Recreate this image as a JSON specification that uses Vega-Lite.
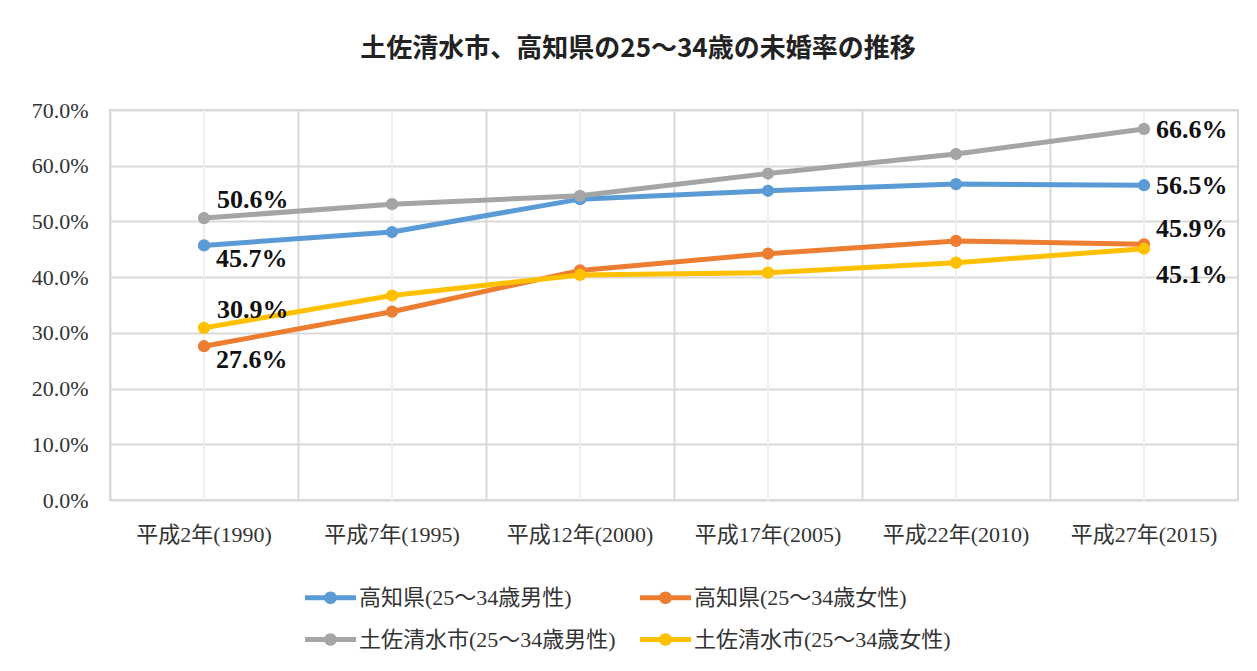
{
  "$schema": "https://vega.github.io/schema/vega-lite/v6.json",
  "width": 1128,
  "height": 390,
  "autosize": {"type": "none"},
  "padding": {"left": 110, "top": 110, "right": 19, "bottom": 171},
  "background": "white",
  "config": {
    "font": "Liberation Serif, Noto Sans CJK JP",
    "view": {"stroke": "#d9d9d9", "strokeWidth": 2},
    "axis": {"gridColor": "#d9d9d9", "gridWidth": 2, "gridOpacity": 1}
  },
  "title": {
    "text": "土佐清水市、高知県の25～34歳の未婚率の推移",
    "font": "Noto Sans CJK JP",
    "fontSize": 26,
    "fontWeight": "bold",
    "color": "#222222",
    "anchor": "middle",
    "dx": -36,
    "offset": 37
  },
  "data": {
    "values": [
      {"year": "平成2年(1990)", "series": "高知県(25～34歳男性)", "rate": 0.457},
      {"year": "平成7年(1995)", "series": "高知県(25～34歳男性)", "rate": 0.481},
      {"year": "平成12年(2000)", "series": "高知県(25～34歳男性)", "rate": 0.540},
      {"year": "平成17年(2005)", "series": "高知県(25～34歳男性)", "rate": 0.555},
      {"year": "平成22年(2010)", "series": "高知県(25～34歳男性)", "rate": 0.567},
      {"year": "平成27年(2015)", "series": "高知県(25～34歳男性)", "rate": 0.565},
      {"year": "平成2年(1990)", "series": "高知県(25～34歳女性)", "rate": 0.276},
      {"year": "平成7年(1995)", "series": "高知県(25～34歳女性)", "rate": 0.338},
      {"year": "平成12年(2000)", "series": "高知県(25～34歳女性)", "rate": 0.412},
      {"year": "平成17年(2005)", "series": "高知県(25～34歳女性)", "rate": 0.442},
      {"year": "平成22年(2010)", "series": "高知県(25～34歳女性)", "rate": 0.465},
      {"year": "平成27年(2015)", "series": "高知県(25～34歳女性)", "rate": 0.459},
      {"year": "平成2年(1990)", "series": "土佐清水市(25～34歳男性)", "rate": 0.506},
      {"year": "平成7年(1995)", "series": "土佐清水市(25～34歳男性)", "rate": 0.531},
      {"year": "平成12年(2000)", "series": "土佐清水市(25～34歳男性)", "rate": 0.546},
      {"year": "平成17年(2005)", "series": "土佐清水市(25～34歳男性)", "rate": 0.586},
      {"year": "平成22年(2010)", "series": "土佐清水市(25～34歳男性)", "rate": 0.621},
      {"year": "平成27年(2015)", "series": "土佐清水市(25～34歳男性)", "rate": 0.666},
      {"year": "平成2年(1990)", "series": "土佐清水市(25～34歳女性)", "rate": 0.309},
      {"year": "平成7年(1995)", "series": "土佐清水市(25～34歳女性)", "rate": 0.367},
      {"year": "平成12年(2000)", "series": "土佐清水市(25～34歳女性)", "rate": 0.404},
      {"year": "平成17年(2005)", "series": "土佐清水市(25～34歳女性)", "rate": 0.408},
      {"year": "平成22年(2010)", "series": "土佐清水市(25～34歳女性)", "rate": 0.426},
      {"year": "平成27年(2015)", "series": "土佐清水市(25～34歳女性)", "rate": 0.451}
    ]
  },
  "encoding": {
    "x": {
      "field": "year",
      "type": "nominal",
      "sort": ["平成2年(1990)", "平成7年(1995)", "平成12年(2000)", "平成17年(2005)", "平成22年(2010)", "平成27年(2015)"],
      "scale": {"type": "band", "paddingInner": 0, "paddingOuter": 0},
      "axis": {
        "title": null,
        "labelAngle": 0,
        "labelFontSize": 22,
        "labelColor": "#333333",
        "labelPadding": 24,
        "ticks": false,
        "domain": false,
        "grid": true,
        "bandPosition": 0
      }
    },
    "y": {
      "field": "rate",
      "type": "quantitative",
      "scale": {"domain": [0, 0.7], "nice": false},
      "axis": {
        "title": null,
        "values": [0, 0.1, 0.2, 0.3, 0.4, 0.5, 0.6, 0.7],
        "format": ".1%",
        "labelFontSize": 22,
        "labelColor": "#333333",
        "labelPadding": 22,
        "ticks": false,
        "domain": false,
        "grid": true
      }
    }
  },
  "layer": [
    {
      "mark": {"type": "rule", "color": "#efefef", "strokeWidth": 2},
      "encoding": {"y": null}
    },
    {
      "mark": {"type": "line", "strokeWidth": 5},
      "encoding": {
        "color": {
          "field": "series",
          "type": "nominal",
          "sort": ["高知県(25～34歳男性)", "高知県(25～34歳女性)", "土佐清水市(25～34歳男性)", "土佐清水市(25～34歳女性)"],
          "scale": {
            "domain": ["高知県(25～34歳男性)", "高知県(25～34歳女性)", "土佐清水市(25～34歳男性)", "土佐清水市(25～34歳女性)"],
            "range": ["#5B9BD5", "#ED7D31", "#A5A5A5", "#FFC000"]
          },
          "legend": {
            "title": null,
            "orient": "none",
            "legendX": 195,
            "legendY": 462,
            "direction": "horizontal",
            "columns": 2,
            "columnPadding": 24,
            "rowPadding": 5,
            "padding": 0,
            "labelFontSize": 22,
            "labelColor": "#333333",
            "labelLimit": 400,
            "labelOffset": 3,
            "symbolType": "M-1,-0.1L1,-0.1L1,0.1L-1,0.1Z M-0.25,0A0.25,0.25,0,1,1,0.25,0A0.25,0.25,0,1,1,-0.25,0Z",
            "symbolSize": 2600,
            "symbolStrokeWidth": 0,
            "encode": {
              "symbols": {
                "update": {
                  "fill": {"scale": "color", "field": "value"},
                  "stroke": {"value": "transparent"},
                  "opacity": {"value": 1}
                }
              }
            }
          }
        }
      }
    },
    {
      "mark": {"type": "circle", "size": 150, "opacity": 1},
      "encoding": {
        "color": {"field": "series", "type": "nominal", "legend": null}
      }
    },
    {
      "transform": [{"filter": "datum.year == '平成2年(1990)' && (datum.series == '土佐清水市(25～34歳男性)' || datum.series == '土佐清水市(25～34歳女性)')"}],
      "mark": {"type": "text", "align": "left", "baseline": "middle", "dx": 13, "dy": -18, "fontSize": 26, "fontWeight": "bold", "color": "#111111"},
      "encoding": {"text": {"field": "rate", "type": "quantitative", "format": ".1%"}}
    },
    {
      "transform": [{"filter": "datum.year == '平成2年(1990)' && (datum.series == '高知県(25～34歳男性)' || datum.series == '高知県(25～34歳女性)')"}],
      "mark": {"type": "text", "align": "left", "baseline": "middle", "dx": 12, "dy": 14, "fontSize": 26, "fontWeight": "bold", "color": "#111111"},
      "encoding": {"text": {"field": "rate", "type": "quantitative", "format": ".1%"}}
    },
    {
      "transform": [{"filter": "datum.year == '平成27年(2015)' && (datum.series == '土佐清水市(25～34歳男性)' || datum.series == '高知県(25～34歳男性)')"}],
      "mark": {"type": "text", "align": "left", "baseline": "middle", "dx": 12, "dy": 1, "fontSize": 26, "fontWeight": "bold", "color": "#111111"},
      "encoding": {"text": {"field": "rate", "type": "quantitative", "format": ".1%"}}
    },
    {
      "transform": [{"filter": "datum.year == '平成27年(2015)' && datum.series == '高知県(25～34歳女性)'"}],
      "mark": {"type": "text", "align": "left", "baseline": "middle", "dx": 12, "dy": -15, "fontSize": 26, "fontWeight": "bold", "color": "#111111"},
      "encoding": {"text": {"field": "rate", "type": "quantitative", "format": ".1%"}}
    },
    {
      "transform": [{"filter": "datum.year == '平成27年(2015)' && datum.series == '土佐清水市(25～34歳女性)'"}],
      "mark": {"type": "text", "align": "left", "baseline": "middle", "dx": 12, "dy": 26, "fontSize": 26, "fontWeight": "bold", "color": "#111111"},
      "encoding": {"text": {"field": "rate", "type": "quantitative", "format": ".1%"}}
    }
  ]
}
